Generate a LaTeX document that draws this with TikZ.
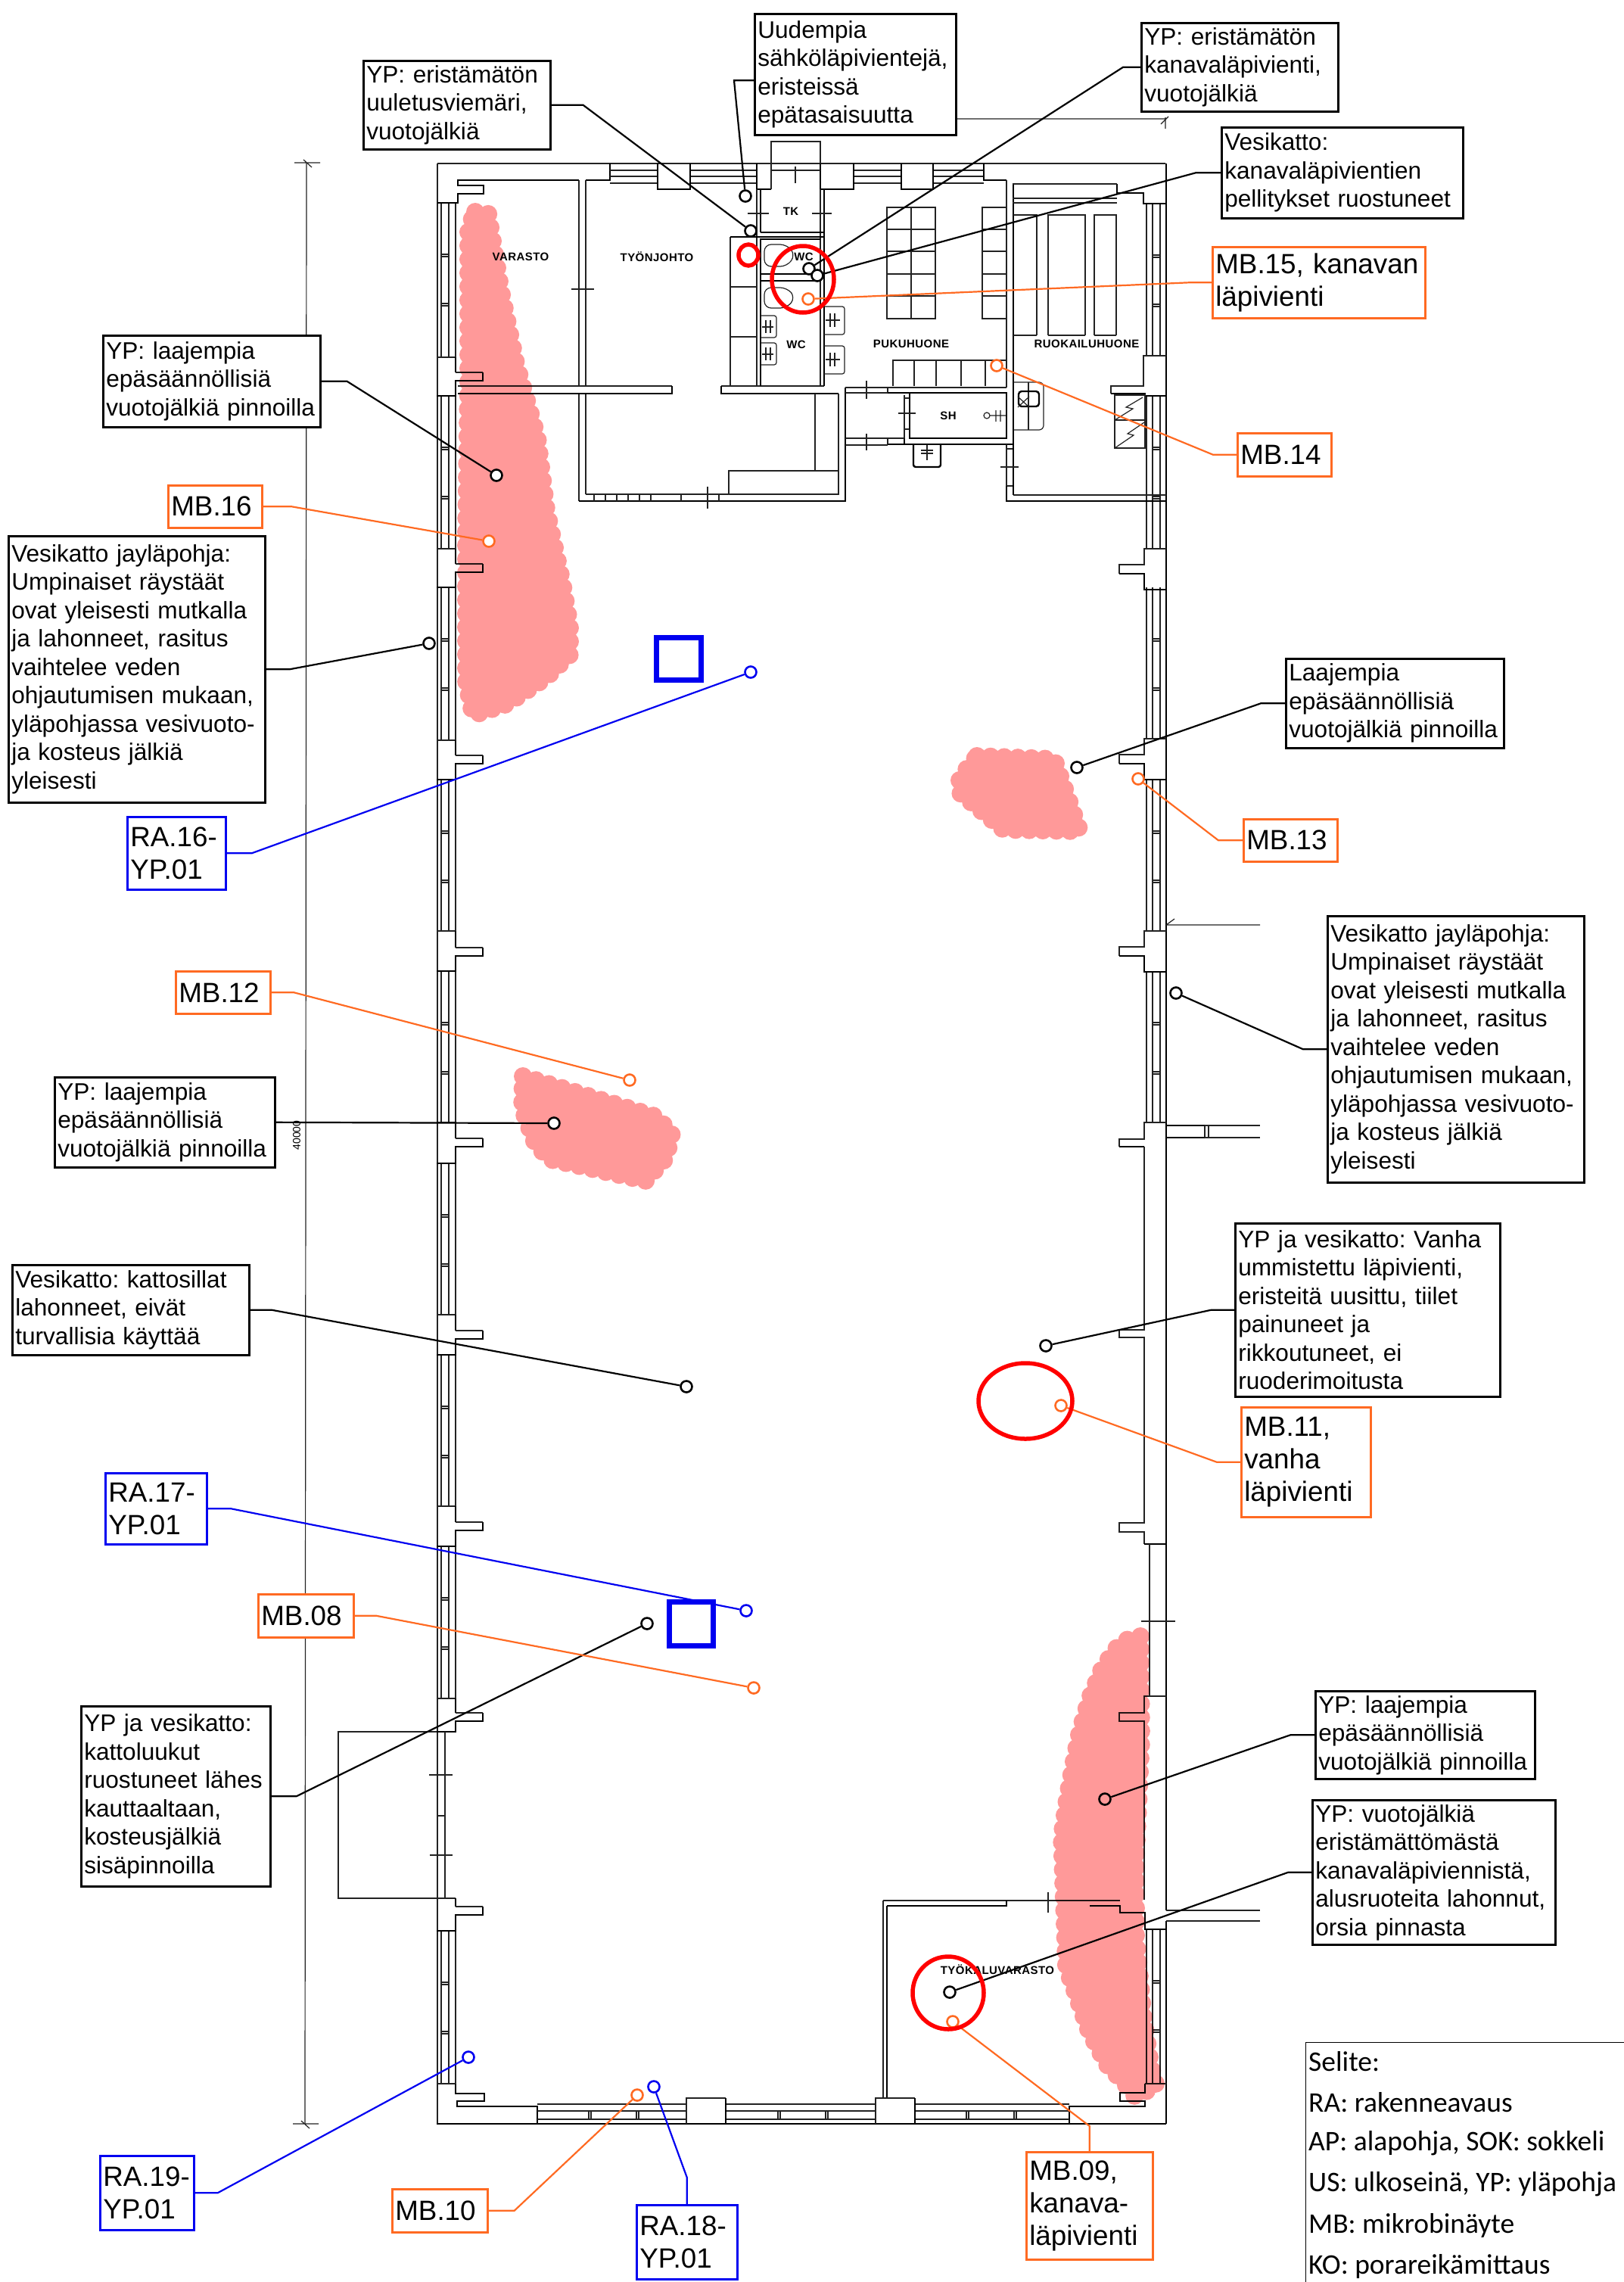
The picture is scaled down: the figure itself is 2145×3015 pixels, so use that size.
\documentclass[tikz,border=0pt]{standalone}
\usepackage{fontspec}
\setmainfont{Liberation Sans}
\newfontfamily\planfont[LetterSpace=3]{Liberation Sans Bold}
\newfontfamily\legendfont{Carlito}
\usetikzlibrary{positioning}
\definecolor{mborange}{HTML}{FF6A22}
\definecolor{rablue}{HTML}{0000F0}
\definecolor{damagepink}{HTML}{FF9999}
\definecolor{plangrey}{HTML}{222222}
\frenchspacing
\newcommand{\roofedgetext}{Vesikatto jayläpohja:\\ Umpinaiset räystäät\\ ovat yleisesti mutkalla\\ ja lahonneet, rasitus\\ vaihtelee veden\\ ohjautumisen mukaan,\\ yläpohjassa vesivuoto-\\ ja kosteus jälkiä\\ yleisesti}
\newcommand{\leakstext}{epäsäännöllisiä\\ vuotojälkiä pinnoilla}

\begin{document}
\begin{tikzpicture}[
  x=1pt, y=-1pt,
  planthin/.style={draw=plangrey, line width=1.2pt},
  planthick/.style={draw=black, line width=2.4pt},
  planlabel/.style={font=\planfont\fontsize{15}{15}\selectfont, inner sep=0pt, text=black},
  callout/.style={draw, fill=white, anchor=north west, align=left, inner xsep=4pt, inner ysep=2pt, text=black},
  blackbox/.style={callout, draw=black, line width=2.6pt, font=\fontsize{31.6}{37.5}\selectfont},
  orangebox/.style={callout, draw=mborange, line width=2.6pt, font=\fontsize{36.8}{43}\selectfont},
  bluebox/.style={callout, draw=rablue, line width=2.6pt, font=\fontsize{36.8}{43}\selectfont},
  dotblack/.style={circle, draw=black, fill=white, minimum size=15pt, inner sep=0pt, line width=2.6pt},
  dotorange/.style={dotblack, draw=mborange},
  dotblue/.style={dotblack, draw=rablue},
  blackline/.style={draw=black, line width=2.2pt},
  orangeline/.style={draw=mborange, line width=2.2pt},
  blueline/.style={draw=rablue, line width=2.2pt},
  damagezone/.style={fill=damagepink, draw=damagepink, line width=24pt, line cap=round, dash pattern=on 0pt off 18pt},
  redmark/.style={draw=red, line width=5.5pt},
  bluemark/.style={draw=rablue, line width=7pt}
]
\useasboundingbox (0,0) rectangle (2145,3015);

\draw[planthin] (405,215) -- (403,2806);
\draw[planthin] (389,215) -- (423,215) (401,211) -- (412,221);
\draw[planthin] (387,2806) -- (421,2806) (398,2802) -- (409,2812);
\node[font=\fontsize{14}{14}\selectfont, rotate=90, inner sep=0pt] (dimtext) at (392,1500) {40000};
\draw[planthin] (1263,157) -- (1540,157) (1540,155) -- (1540,170) (1534,164) -- (1544,154);

\draw[planthin] (578,216) -- (1540,216);
\draw[planthin] (578,216) -- (578,2806);
\draw[planthick] (1541,216) -- (1541,2524) (1541,2538) -- (1541,2806);
\draw[planthick] (577,2806) -- (1541,2806);

\foreach \wtop/\wbot in {268/472, 523/725, 776/978, 1030/1230, 1283/1483, 1537/1737, 1790/1990, 2043/2244, 2551/2753} {
  \draw[planthin] (583,\wtop) -- (583,\wbot) (593,\wtop) -- (593,\wbot) (602,\wtop) -- (602,\wbot);
  \draw[planthin] (583,\wtop+68) -- (593,\wtop+68) (583,\wtop+71) -- (593,\wtop+71);
  \draw[planthin] (583,\wtop+133) -- (593,\wtop+133) (583,\wtop+136) -- (593,\wtop+136);
}
\foreach \ptop/\pfin/\pbot in {472/20/51, 725/20/51, 978/20/52, 1230/22/53, 1483/21/54, 1737/21/53, 1990/21/53, 2244/19/44, 2508/11/43} {
  \draw[planthin] (577,\ptop) -- (602,\ptop);
  \draw[planthick] (602,\ptop) -- (602,\ptop+\pfin) (638,\ptop+\pfin) -- (638,\ptop+\pfin+11) -- (602,\ptop+\pfin+11) -- (602,\ptop+\pbot) -- (577,\ptop+\pbot);
  \draw[planthin] (602,\ptop+\pfin) -- (638,\ptop+\pfin);
}
\draw[planthin] (577,2288) -- (447,2288) -- (447,2508) -- (577,2508);
\draw[planthin] (588,2288) -- (588,2508) (578,2399) -- (588,2399) (567,2345) -- (598,2345) (568,2451) -- (598,2451);
\draw[planthick] (578,268) -- (605,268) -- (605,256) -- (639,256) -- (639,245) -- (605,245) -- (605,238) -- (765,238);
\draw[planthick] (602,2753) -- (602,2766) -- (640,2766) -- (640,2776) -- (604,2776) -- (604,2783) -- (710,2783) -- (710,2806);
\draw[planthin] (577,2753) -- (602,2753);

\foreach \wtop/\wbot in {269/470, 523/725, 776/976, 1030/1230, 1283/1483, 2549/2753} {
  \draw[planthin] (1515,\wtop) -- (1515,\wbot) (1523,\wtop) -- (1523,\wbot) (1533,\wtop) -- (1533,\wbot);
  \draw[planthin] (1523,\wtop+68) -- (1533,\wtop+68) (1523,\wtop+71) -- (1533,\wtop+71);
  \draw[planthin] (1523,\wtop+133) -- (1533,\wtop+133) (1523,\wtop+136) -- (1533,\wtop+136);
}
\foreach \ptop in {725, 976, 1230} {
  \draw[planthin] (1541,\ptop) -- (1512,\ptop) -- (1512,\ptop+21) -- (1479,\ptop+21) -- (1479,\ptop+33);
  \draw[planthick] (1479,\ptop+33) -- (1512,\ptop+33) -- (1512,\ptop+54) -- (1541,\ptop+54);
}
\draw[planthin] (1541,1222) -- (1665,1222) (1541,1222) -- (1552,1214);
\draw[planthin] (1541,470) -- (1511,470) -- (1511,510) -- (1468,510) -- (1468,520);
\draw[planthick] (1468,520) -- (1513,520) -- (1513,523) -- (1541,523);
\draw[planthick] (1476,243) -- (1476,255) -- (1511,255) -- (1511,269) -- (1541,269);

\draw[planthin] (1541,1483) -- (1512,1483) -- (1512,1505) -- (1479,1505) -- (1479,1515);
\draw[planthick] (1479,1515) -- (1512,1515);
\draw[planthin] (1512,1515) -- (1512,1757) -- (1479,1757) -- (1479,1767) -- (1512,1767) -- (1512,2012) -- (1479,2012) -- (1479,2024) -- (1512,2024) -- (1512,2040);
\draw[planthick] (1512,2040) -- (1541,2040);
\draw[planthin] (1519,2040) -- (1519,2241) (1508,2142) -- (1553,2142);
\draw[planthin] (1541,2241) -- (1512,2241) -- (1512,2263) -- (1479,2263) -- (1479,2274) -- (1512,2274) -- (1512,2510);
\draw[planthick] (1541,1487) -- (1592,1487) (1541,1503) -- (1592,1503);
\draw[planthin] (1592,1487) -- (1665,1487) (1592,1503) -- (1665,1503) (1592,1487) -- (1592,1503) (1597,1487) -- (1597,1503);
\draw[planthin] (1541,2524) -- (1665,2524) (1541,2538) -- (1665,2538);
\draw[planthin] (1167,2511) -- (1480,2511) (1385,2500) -- (1385,2527);
\draw[planthick] (1172,2518) -- (1330,2518) -- (1330,2511) (1440,2518) -- (1480,2518) -- (1480,2527) -- (1513,2527) -- (1513,2549) -- (1541,2549);
\draw[planthin] (1167,2511) -- (1167,2772);
\draw[planthick] (1172,2518) -- (1172,2772);
\draw[planthick] (1513,2753) -- (1513,2765) -- (1480,2765) -- (1480,2776) -- (1513,2776) -- (1513,2783) -- (1413,2783) -- (1413,2806);
\draw[planthin] (1513,2753) -- (1541,2753);

\foreach \wleft/\wright in {710/907, 960/1157, 1209/1413} {
  \draw[planthin] (\wleft,2780) -- (\wright,2780) (\wleft,2789) -- (\wright,2789) (\wleft,2800) -- (\wright,2800);
  \draw[planthin] (\wleft+68,2789) -- (\wleft+68,2800) (\wleft+71,2789) -- (\wleft+71,2800);
  \draw[planthin] (\wleft+131,2789) -- (\wleft+131,2800) (\wleft+134,2789) -- (\wleft+134,2800);
}
\foreach \pleft in {907, 1157} {
  \draw[planthin] (\pleft,2806) -- (\pleft,2772) -- (\pleft+52,2772);
  \draw[planthick] (\pleft+52,2772) -- (\pleft+52,2806);
}

\draw[planthick] (774,238) -- (806,238) -- (806,216);
\foreach \wleft/\wright in {806/869, 912/1000, 1128/1191, 1233/1300} {
  \draw[planthin] (\wleft,225) -- (\wright,225) (\wleft,233) -- (\wright,233) (\wleft,242) -- (\wright,242);
}
\foreach \pleft/\pright in {869/912, 1084/1128, 1191/1233} {
  \draw[planthick] (\pleft,216) -- (\pleft,250) -- (\pright,250) -- (\pright,216);
}
\draw[planthick] (1000,216) -- (1000,250) -- (1019,250);
\draw[planthin] (1019,250) -- (1019,187) -- (1084,187) -- (1084,216) (1019,225) -- (1084,225) (1051,220) -- (1051,242);
\draw[planthick] (1300,216) -- (1300,238) -- (1330,238);

\draw[planthin] (765,238) -- (765,510) (774,238) -- (774,510) (765,520) -- (765,662) (774,520) -- (774,653);
\draw[planthin] (755,382) -- (785,382);
\draw[planthin] (605,510) -- (888,510) (953,510) -- (1089,510);
\draw[planthick] (605,520) -- (888,520) -- (888,510) (953,510) -- (953,520) -- (1108,520);
\draw[planthick] (765,662) -- (1117,662) -- (1117,512);
\draw[planthin] (1108,520) -- (1108,653) -- (774,653);
\foreach \barx in {785, 800, 815, 830, 845, 860, 900, 950} {
  \draw[planthin] (\barx,653) -- (\barx,662);
}
\draw[planthin] (935,643) -- (935,672);
\draw[planthin] (963,653) -- (963,622) -- (1108,622) (1077,622) -- (1077,520);

\draw[planthin] (965,313) -- (965,510) (1000,250) -- (1000,510) (1084,250) -- (1084,510);
\draw[planthick] (1005,250) -- (1005,307) (1005,315) -- (1005,510) (1089,250) -- (1089,510);
\draw[planthin] (988,282) -- (1016,282) (1073,282) -- (1099,282);
\draw[planthick] (1005,307) -- (1089,307) (965,313) -- (1089,313);
\draw[planthick] (1005,316) -- (1084,316) (1005,362) -- (1089,362) (1005,371) -- (1084,371);
\draw[planthin] (965,379) -- (1000,379) (965,445) -- (1000,445);
\draw[planthin, rounded corners=9pt] (1010,323) -- (1040,323) -- (1051,337) -- (1040,352) -- (1010,352) -- cycle;
\draw[planthin, rounded corners=9pt] (1010,380) -- (1040,380) -- (1051,393) -- (1040,407) -- (1010,407) -- cycle;
\foreach \ly in {417, 453} {
  \draw[planthin, rounded corners=3pt] (1005,\ly) -- (1026,\ly) -- (1026,\ly+29) -- (1005,\ly+29);
  \draw[planthin] (1012,\ly+6) -- (1012,\ly+23) (1018,\ly+6) -- (1018,\ly+23) (1007,\ly+15) -- (1022,\ly+15);
}
\foreach \ly in {405, 457} {
  \draw[planthin, rounded corners=3pt] (1089,\ly) -- (1116,\ly) -- (1116,\ly+37) -- (1089,\ly+37);
  \draw[planthin] (1097,\ly+9) -- (1097,\ly+27) (1103,\ly+9) -- (1103,\ly+27) (1091,\ly+18) -- (1110,\ly+18);
}

\draw[planthin] (1172,274) rectangle (1236,421) (1204,274) -- (1204,421);
\draw[planthin] (1298,274) rectangle (1330,421);
\foreach \ly in {303, 332, 362, 391} {
  \draw[planthin] (1172,\ly) -- (1236,\ly) (1298,\ly) -- (1330,\ly);
}
\draw[planthin] (1180,510) -- (1180,476) -- (1330,476);
\foreach \lx in {1208, 1237, 1270, 1302} {
  \draw[planthin] (\lx,476) -- (\lx,510);
}

\draw[planthin] (1330,238) -- (1330,512) (1173,512) -- (1330,512) (1173,512) -- (1173,519);
\draw[planthick] (1339,243) -- (1339,654);
\draw[planthin] (1338,243) -- (1476,243) (1338,262) -- (1476,262) (1338,268) -- (1476,268);
\draw[planthin] (1339,284) -- (1370,284) -- (1370,443) (1385,443) -- (1385,284) -- (1434,284) -- (1434,443) (1446,443) -- (1446,284) -- (1475,284) -- (1475,443);
\draw[planthin] (1339,443) -- (1370,443) (1385,443) -- (1434,443) (1446,443) -- (1475,443);

\draw[planthin] (1117,512) -- (1173,512) (1117,519) -- (1173,519) (1145,503) -- (1145,527);
\draw[planthick] (1173,519) -- (1330,519) -- (1330,579) -- (1202,579) -- (1202,519);
\draw[planthin] (1195,522) -- (1195,579) (1195,526) -- (1202,526) (1195,567) -- (1202,567) (1187,546) -- (1210,546);
\draw[planthick] (1173,587) -- (1338,587) (1195,579) -- (1195,587);
\draw[planthin] (1117,579) -- (1195,579) (1117,588) -- (1173,588) (1173,579) -- (1173,587) (1145,573) -- (1145,595);
\node[planlabel] (sh) at (1253,549) {SH};
\draw[planthick, rounded corners=3pt] (1207,588) -- (1207,617) -- (1243,617) -- (1243,588);
\draw[planthin] (1225,588) -- (1225,608) (1217,595) -- (1233,595) (1217,599) -- (1233,599);
\draw[planthin] (1304,549) circle (4) (1308,549) -- (1330,549) (1316,542) -- (1316,557) (1322,542) -- (1322,557);
\draw[planthin] (1330,587) -- (1330,642) (1322,617) -- (1346,617) (1330,593) -- (1338,593) (1330,642) -- (1338,642);
\draw[planthin] (1339,654) -- (1541,654);
\draw[planthick] (1330,642) -- (1330,662) -- (1541,662);

\draw[planthin, rounded corners=6pt] (1339,505) -- (1379,505) -- (1379,568) -- (1339,568);
\draw[planthin] (1359,505) -- (1359,568);
\draw[planthick, rounded corners=4pt] (1346,517) rectangle (1373,537);
\draw[planthin] (1345,524) -- (1360,538) (1345,538) -- (1360,524);
\draw[planthin] (1473,522) rectangle (1513,592) (1473,555) -- (1513,555);
\draw[planthin] (1473,555) -- (1497,540) -- (1488,538) -- (1510,525) (1473,592) -- (1498,575) -- (1490,573) -- (1512,558);

\node[planlabel] (varasto) at (688,339) {VARASTO};
\node[planlabel] (tyonjohto) at (868,339) {TYÖNJOHTO};
\node[planlabel] (tk) at (1045,279) {TK};
\node[planlabel] (wcupper) at (1062,339) {WC};
\node[planlabel] (wclower) at (1052,455) {WC};
\node[planlabel] (pukuhuone) at (1204,454) {PUKUHUONE};
\node[planlabel] (ruokailu) at (1436,454) {RUOKAILUHUONE};
\node[planlabel] (tyokalu) at (1318,2602) {TYÖKALUVARASTO};

\begin{scope}[blend mode=multiply]
  \begin{scope}[transparency group]
    \path[damagezone] (628,280) -- (645,282) -- (662,384) -- (682,480) -- (710,577) -- (722,673) -- (743,769) -- (753,826) -- (753,865) -- (722,895) -- (670,930) -- (625,945) -- (616,900) -- (616,700) -- (619,500) -- (619,300) -- cycle;
    \path[damagezone] (1291,999) -- (1393,1003) -- (1427,1098) -- (1326,1096) -- (1268,1047) -- (1268,1028) -- cycle;
    \path[damagezone] (691,1422) -- (866,1475) -- (888,1497) -- (880,1530) -- (853,1560) -- (728,1532) -- (708,1513) -- (690,1465) -- cycle;
  \end{scope}
\end{scope}

\node[blackbox, text width=239pt, minimum height=117pt] (ypvent) at (479,79) {YP: eristämätön\\ uuletusviemäri,\\ vuotojälkiä};
\node[blackbox, text width=258pt, minimum height=160pt] (cables) at (996,17) {Uudempia\\ sähköläpivientejä,\\ eristeissä\\ epätasaisuutta};
\node[blackbox, text width=252pt, minimum height=117pt] (ypduct) at (1507,29) {YP: eristämätön\\ kanavaläpivienti,\\ vuotojälkiä};
\node[blackbox, text width=311pt, minimum height=120pt] (flashing) at (1613,167) {Vesikatto:\\ kanavaläpivientien\\ pellitykset ruostuneet};
\node[blackbox, text width=279pt, minimum height=121pt] (ypnorth) at (135,442) {YP: laajempia\\ \leakstext};
\node[blackbox, text width=331pt, minimum height=352pt] (edgewest) at (10,707) {\roofedgetext};
\node[blackbox, text width=280pt, minimum height=118pt] (leakseast) at (1698,869) {Laajempia\\ \leakstext};
\node[blackbox, text width=331pt, minimum height=352pt] (edgeeast) at (1753,1209) {\roofedgetext};
\node[blackbox, text width=283pt, minimum height=119pt] (ypwest) at (71,1422) {YP: laajempia\\ \leakstext};
\node[blackbox, text width=342pt, minimum height=229pt] (oldduct) at (1631,1615) {YP ja vesikatto: Vanha\\ ummistettu läpivienti,\\ eristeitä uusittu, tiilet\\ painuneet ja\\ rikkoutuneet, ei\\ ruoderimoitusta};
\node[blackbox, text width=305pt, minimum height=119pt] (bridges) at (15,1670) {Vesikatto: kattosillat\\ lahonneet, eivät\\ turvallisia käyttää};
\node[blackbox, text width=242pt, minimum height=238pt] (hatches) at (106,2253) {YP ja vesikatto:\\ kattoluukut\\ ruostuneet lähes\\ kauttaaltaan,\\ kosteusjälkiä\\ sisäpinnoilla};
\node[blackbox, text width=282pt, minimum height=116pt] (ypsouth) at (1737,2233) {YP: laajempia\\ \leakstext};
\node[blackbox, text width=313pt, minimum height=191pt] (ypstains) at (1733,2377) {YP: vuotojälkiä\\ eristämättömästä\\ kanavaläpiviennistä,\\ alusruoteita lahonnut,\\ orsia pinnasta};

\node[orangebox, text width=273pt, minimum height=94pt] (mbfifteen) at (1601,325) {MB.15, kanavan\\ läpivienti};
\node[orangebox, text width=116pt, minimum height=57pt] (mbfourteen) at (1634,571) {MB.14};
\node[orangebox, text width=116pt, minimum height=56pt] (mbsixteen) at (221,640) {MB.16};
\node[orangebox, text width=116pt, minimum height=56pt] (mbthirteen) at (1642,1081) {MB.13};
\node[orangebox, text width=117pt, minimum height=56pt] (mbtwelve) at (231,1282) {MB.12};
\node[orangebox, text width=163pt, minimum height=145pt] (mbeleven) at (1639,1858) {MB.11,\\ vanha\\ läpivienti};
\node[orangebox, text width=118pt, minimum height=57pt] (mbeight) at (340,2105) {MB.08};
\node[orangebox, text width=159pt, minimum height=142pt] (mbnine) at (1355,2842) {MB.09,\\ kanava-\\ läpivienti};
\node[orangebox, text width=118pt, minimum height=57pt] (mbten) at (517,2891) {MB.10};

\node[bluebox, text width=122pt, minimum height=96pt] (rasixteen) at (167,1078) {RA.16-\\ YP.01};
\node[bluebox, text width=126pt, minimum height=94pt] (raseventeen) at (138,1945) {RA.17-\\ YP.01};
\node[bluebox, text width=116pt, minimum height=98pt] (ranineteen) at (131,2847) {RA.19-\\ YP.01};
\node[bluebox, text width=125pt, minimum height=98pt] (raeighteen) at (840,2912) {RA.18-\\ YP.01};

\foreach \nm/\side/\bx/\by/\px/\py in {
  ypvent/east/42/0/992/305, ypduct/west/-23/0/1069/355,
  flashing/west/-33/0/1080/364, ypnorth/east/34/0/656/628, edgewest/east/31/0/567/850,
  leakseast/west/-32/0/1423/1014, edgeeast/west/-31/0/1554/1312, ypwest/east/0/0/732/1484,
  oldduct/west/-31/0/1382/1778, bridges/east/29/0/907/1832, hatches/east/33/0/855/2145,
  ypsouth/west/-32/0/1460/2377, ypstains/west/-31/0/1255/2632} {
  \node[dotblack] (dot\nm) at (\px,\py) {};
  \draw[blackline] (\nm.\side) -- ++(\bx,\by) -- (dot\nm);
}
\node[dotblack] (dotcables) at (985,259) {};
\draw[blackline] ([yshift=-8pt]cables.west) -- ++(-26,0) -- (dotcables);
\foreach \nm/\side/\bx/\by/\px/\py in {
  mbfifteen/west/-30/0/1068/395, mbfourteen/west/-31/0/1317/483, mbsixteen/east/38/0/646/715,
  mbthirteen/west/-32/0/1504/1029, mbtwelve/east/30/0/832/1427, mbeleven/west/-31/0/1402/1857,
  mbeight/east/29/0/996/2230, mbnine/north/0/-33/1259/2671, mbten/east/34/0/842/2768} {
  \node[dotorange] (dot\nm) at (\px,\py) {};
  \draw[orangeline] (\nm.\side) -- ++(\bx,\by) -- (dot\nm);
}
\foreach \nm/\side/\bx/\by/\px/\py in {
  rasixteen/east/33/0/992/888, raseventeen/east/31/0/986/2128,
  ranineteen/east/30/0/619/2718, raeighteen/north/0/-35/864/2757} {
  \node[dotblue] (dot\nm) at (\px,\py) {};
  \draw[blueline] (\nm.\side) -- ++(\bx,\by) -- (dot\nm);
}

\draw[redmark] (989,337) circle [x radius=13, y radius=14];
\draw[redmark] (1061,369) circle [x radius=41, y radius=44];
\draw[redmark] (1355,1851) circle [x radius=62, y radius=50];
\draw[redmark] (1253,2633) circle [x radius=47, y radius=48];
\draw[bluemark] (867,842) rectangle (926,898);
\draw[bluemark] (884,2116) rectangle (942,2174);

\begin{scope}[blend mode=multiply]
  \begin{scope}[transparency group]
    \path[damagezone] (1507,2162) -- (1488,2167) -- (1475,2178) -- (1457,2203) -- (1440,2243) -- (1427,2287) -- (1418,2332) -- (1410,2377) -- (1403,2426) -- (1409,2600) -- (1420,2630) -- (1439,2684) -- (1462,2727) -- (1489,2756) -- (1500,2770) -- (1528,2756) -- (1521,2731) -- (1511,2666) -- (1501,2558) -- (1501,2450) -- (1508,2300) -- cycle;
  \end{scope}
\end{scope}

\node[draw=black, line width=1.2pt, fill=white, anchor=north west, minimum width=425pt, minimum height=320pt] (legendbox) at (1725,2698) {};
\foreach \nm/\ly/\txt in {ltitle/2724/Selite:, lra/2778/RA: rakenneavaus, lap/2832/{AP: alapohja, SOK: sokkeli}, lus/2886/{US: ulkoseinä, YP: yläpohja}, lmb/2940/MB: mikrobinäyte, lko/2994/KO: porareikämittaus} {
  \node[font=\legendfont\fontsize{37.5}{37.5}\selectfont, anchor=west, inner sep=0pt] (\nm) at (1729,\ly) {\txt};
}
\end{tikzpicture}
\end{document}
